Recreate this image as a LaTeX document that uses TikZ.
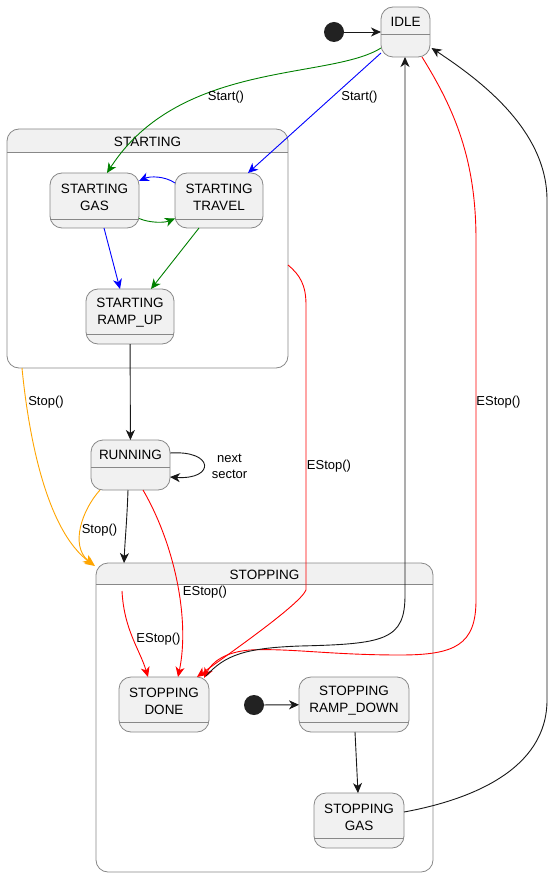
\documentclass[tikz,border=0pt]{standalone}
\usepackage{fontspec}
\setmainfont{Liberation Sans}
\usetikzlibrary{arrows.meta,calc}

\definecolor{boxfill}{HTML}{F1F1F1}
\definecolor{boxline}{HTML}{888888}
\definecolor{ink}{HTML}{181818}
\definecolor{dotfill}{HTML}{222222}
\definecolor{pgreen}{HTML}{008000}
\definecolor{pblue}{HTML}{0000FF}
\definecolor{pred}{HTML}{FF0000}
\definecolor{porange}{HTML}{FFA500}

\tikzset{
  statebox/.style={draw=boxline, fill=boxfill, line width=0.8pt, rounded corners=12pt,
    inner sep=0pt, outer sep=0pt},
  clusterbox/.style={draw=boxline, line width=0.8pt, rounded corners=12pt,
    inner sep=0pt, outer sep=0pt},
  boxrule/.style={draw=boxline, line width=0.8pt},
  statename/.style={font=\fontsize{13.5pt}{17pt}\selectfont, align=center, inner sep=0pt,
    text=black, yshift=-1.5pt},
  edgelabel/.style={font=\fontsize{13pt}{16pt}\selectfont, align=center, inner sep=0pt, text=black},
  initdot/.style={circle, fill=dotfill, minimum size=20pt, inner sep=0pt, outer sep=0pt},
  edge/.style={color=ink, line width=0.9pt, -{Stealth[length=10pt,width=9pt,inset=3pt]}},
}

% simple state: name, left, top, right, bottom, divider y, caption
\newcommand\mkstate[7]{%
  \node[statebox, minimum width={(#4-#2)*1pt}, minimum height={(#5-#3)*1pt}]
    (#1) at ({(#2+#4)/2},{(#3+#5)/2}) {};
  \draw[boxrule] (#2,#6) -- (#4,#6);
  \node[statename] (#1-name) at ({(#2+#4)/2},{(#3+#6)/2}) {#7};
}

% composite state: name, left, top, right, bottom, header y, caption
\newcommand\mkcluster[7]{%
  \begin{scope}
    \clip (#2,#3) rectangle (#4,#6);
    \fill[boxfill, rounded corners=12pt] (#2,#3) rectangle (#4,#5);
  \end{scope}
  \node[clusterbox, minimum width={(#4-#2)*1pt}, minimum height={(#5-#3)*1pt}]
    (#1) at ({(#2+#4)/2},{(#3+#5)/2}) {};
  \draw[boxrule] (#2,#6) -- (#4,#6);
  \node[statename] (#1-name) at ({(#2+#4)/2},{(#3+#6)/2}) {#7};
}

\begin{document}
\begin{tikzpicture}[x=1pt,y=-1pt]
  \fill[white] (0,0) rectangle (553,877);
  \useasboundingbox (0,0) rectangle (553,877);

  % composite states
  \mkcluster{starting}{7}{129}{288}{368}{152}{STARTING}
  \mkcluster{stopping}{96}{563}{433}{872}{584}{STOPPING}

  % states
  \mkstate{idle}{381}{7}{430}{57}{34}{IDLE}
  \mkstate{gas}{50}{173}{139}{228}{219}{STARTING\\GAS}
  \mkstate{travel}{175}{173}{263}{228}{219}{STARTING\\TRAVEL}
  \mkstate{rampup}{86}{289}{174}{344}{334}{STARTING\\RAMP\_UP}
  \mkstate{running}{91}{440}{170}{490}{467}{RUNNING}
  \mkstate{done}{119}{677}{209}{732}{722}{STOPPING\\DONE}
  \mkstate{rampdown}{299}{677}{409}{732}{722}{STOPPING\\RAMP\_DOWN}
  \mkstate{sgas}{314}{793}{404}{848}{838}{STOPPING\\GAS}

  % initial pseudo-states
  \node[initdot] (init1) at (334,32) {};
  \node[initdot] (init2) at (254,705) {};

  % transitions
  \draw[edge] (init1) -- (idle);
  \draw[edge, pgreen] ($(idle.west)+(0,16)$) .. controls (330,80) and (180,60) .. ($(gas.north)+(12.5,0)$);
  \draw[edge, pblue] ($(idle.west)+(0,21)$) -- ($(travel.north)+(29,0)$);
  \draw[edge, pblue] ($(travel.west)+(0,-17.5)$) .. controls (165,176) and (150,176) .. ($(gas.east)+(0,-19.5)$);
  \draw[edge, pgreen] ($(gas.east)+(0,18)$) .. controls (150,223) and (164,223) .. ($(travel.west)+(0,18)$);
  \draw[edge, pblue] ($(gas.south)+(9.5,0)$) -- ($(rampup.north)+(-10,0)$);
  \draw[edge, pgreen] ($(travel.south)+(-20,0)$) -- ($(rampup.north)+(21,0)$);
  \draw[edge] (rampup) -- (running);

  \draw[edge, porange] ($(starting.south west)+(15,0)$) .. controls (28,430) and (45,530) .. ($(stopping.north west)+(-1,3)$);
  \draw[edge, porange] ($(running.south west)+(9,0)$) .. controls (82,510) and (70,545) .. ($(stopping.north west)+(-3,2)$);
  \draw[edge] ($(running.south)+(-2.5,0)$) .. controls (127,520) and (125,540) .. ($(stopping.north west)+(28,0)$);
  \draw[edge] ($(running.east)+(0,-12)$) .. controls (215,450) and (215,480) .. ($(running.east)+(0,12)$);

  \draw[edge, pred] ($(running.south)+(12.5,0)$) .. controls (175,545) and (190,620) .. ($(done.north)+(14,0)$);
  \coordinate (stopentry) at ($(stopping.north west)+(26,28)$);
  \draw[edge, pred] (stopentry) .. controls (124,630) and (140,650) .. ($(done.north)+(-16,0)$);
  \draw[edge, pred] ($(starting.east)+(0,16.5)$) .. controls (300,275) and (306,285) .. (306,305)
    -- (306,590) .. controls (300,605) and (220,660) .. ($(done.north)+(33,0)$);
  \draw[edge, pred] ($(idle.south)+(16.5,0)$) .. controls (455,110) and (476,160) .. (476,240)
    -- (476,600) .. controls (476,645) and (455,655) .. (400,655)
    .. controls (330,655) and (290,648) .. (250,650)
    .. controls (225,652) and (212,662) .. ($(done.north east)+(-5,1)$);
  \draw[edge] ($(done.north east)+(-3,-1)$) .. controls (225,655) and (245,648) .. (300,646)
    .. controls (385,644) and (405,640) .. (405,595) -- ($(idle.south)+(-0.5,0)$);
  \draw[edge] ($(sgas.east)+(0,-8.5)$) .. controls (470,800) and (547,770) .. (547,700)
    -- (547,200) .. controls (547,130) and (480,80) .. ($(idle.east)+(1.5,16)$);

  \draw[edge] (init2) -- (rampdown);
  \draw[edge] ($(rampdown.south)+(1,0)$) -- ($(sgas.north)+(-1,0)$);

  % transition labels
  \node[edgelabel] (lbl-start-gas) at (226,97) {Start()};
  \node[edgelabel] (lbl-start-travel) at (359.5,97) {Start()};
  \node[edgelabel] (lbl-stop-starting) at (46,402) {Stop()};
  \node[edgelabel] (lbl-stop-running) at (99.5,530) {Stop()};
  \node[edgelabel] (lbl-next) at (229.5,466) {next\\sector};
  \node[edgelabel] (lbl-estop-starting) at (329,466) {EStop()};
  \node[edgelabel] (lbl-estop-idle) at (498.5,402) {EStop()};
  \node[edgelabel] (lbl-estop-running) at (205,592) {EStop()};
  \node[edgelabel] (lbl-estop-stopping) at (158.5,639) {EStop()};
\end{tikzpicture}
\end{document}
